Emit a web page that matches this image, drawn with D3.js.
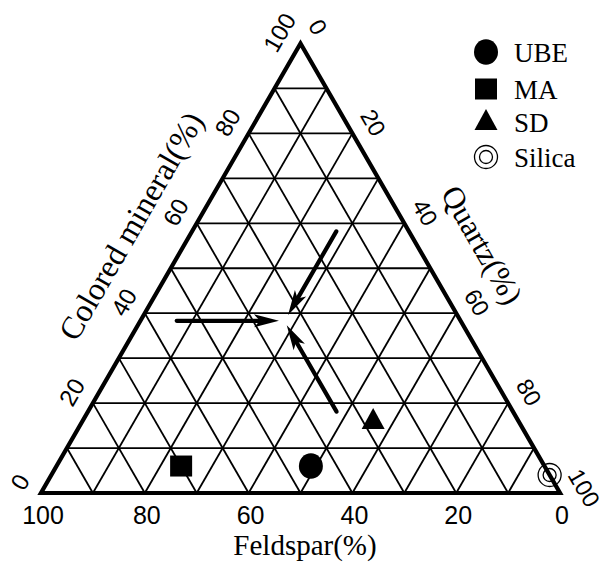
<!DOCTYPE html>
<html>
<head>
<meta charset="utf-8">
<script src="https://cdn.jsdelivr.net/npm/d3@7"></script>
<style>
  html, body { margin: 0; padding: 0; background: #fff; }
  svg { display: block; }
</style>
</head>
<body>
<div id="chart"></div>
<script>
// Sample compositions (%): feldspar, colored mineral, quartz
const samples  = ["UBE", "MA", "SD", "Silica"];
const feldspar = [45, 70, 28, 0];
const colored  = [6, 6, 16, 4];
const quartz   = [49, 24, 56, 96];
const symbols  = ["circle", "square", "triangle", "ring"];

// Trend arrows: start and end compositions [feldspar, colored, quartz]
const arrowFrom = [[54.7, 38.3, 7], [14, 58.2, 27.8], [34, 18.1, 47.9]];
const arrowTo   = [[35, 38.3, 26.7], [32.6, 39.6, 27.8], [34, 37.3, 28.7]];

// Axis tick labels and titles
const tickValues = [0, 20, 40, 60, 80, 100];
const gridValues = [10, 20, 30, 40, 50, 60, 70, 80, 90];
const titleBottom = "Feldspar(%)";
const titleLeft = "Colored mineral(%)";
const titleRight = "Quartz(%)";

const W = 605, H = 562;
const serif = "'Liberation Serif', 'Times New Roman', serif";
const sans = "'Liberation Sans', Arial, sans-serif";

// Triangle corners: bottom-left = feldspar 100, top = colored 100, bottom-right = quartz 100
const BL = [41, 493], BR = [560, 493], TOP = [300.5, 43.5];
const frac = d3.scaleLinear().domain([0, 100]).range([0, 1]);

function project(f, c, q) {
  const a = frac(f), b = frac(c), d = frac(q);
  const s = a + b + d;
  return [
    (BL[0] * a + TOP[0] * b + BR[0] * d) / s,
    (BL[1] * a + TOP[1] * b + BR[1] * d) / s
  ];
}

const svg = d3.select("#chart").append("svg")
  .attr("width", W).attr("height", H);

// Grid lines: constant colored, constant quartz, constant feldspar
const grid = svg.append("g").attr("stroke", "#000").attr("stroke-width", 1.8).attr("fill", "none");
const line = d3.line();
gridValues.forEach(v => {
  grid.append("path").attr("d", line([project(100 - v, v, 0), project(0, v, 100 - v)]));
  grid.append("path").attr("d", line([project(100 - v, 0, v), project(0, 100 - v, v)]));
  grid.append("path").attr("d", line([project(v, 100 - v, 0), project(v, 0, 100 - v)]));
});

// Sample markers
const marks = svg.append("g");
samples.forEach((name, i) => {
  const [x, y] = project(feldspar[i], colored[i], quartz[i]);
  drawSymbol(marks, symbols[i], x, y);
});

function drawSymbol(g, type, x, y) {
  if (type === "circle") {
    g.append("ellipse").attr("cx", x).attr("cy", y).attr("rx", 12).attr("ry", 12.8).attr("fill", "#000");
  } else if (type === "square") {
    g.append("rect").attr("x", x - 11).attr("y", y - 10.5).attr("width", 22).attr("height", 21).attr("fill", "#000");
  } else if (type === "triangle") {
    g.append("path").attr("d", `M${x},${y - 13}L${x + 11.5},${y + 8}L${x - 11.5},${y + 8}Z`).attr("fill", "#000");
  } else if (type === "ring") {
    g.append("circle").attr("cx", x).attr("cy", y).attr("r", 11.5).attr("fill", "#fff").attr("stroke", "#000").attr("stroke-width", 1.3);
    g.append("circle").attr("cx", x).attr("cy", y).attr("r", 6.5).attr("fill", "none").attr("stroke", "#000").attr("stroke-width", 1.3);
  }
}

// Outer triangle
svg.append("path")
  .attr("d", line([BL, BR, TOP]) + "Z")
  .attr("fill", "none").attr("stroke", "#000").attr("stroke-width", 4.2)
  .attr("stroke-linejoin", "miter");

// Arrows with barbed heads
const arrows = svg.append("g");
arrowFrom.forEach((s, i) => {
  const p0 = project(...s), p1 = project(...arrowTo[i]);
  const ang = Math.atan2(p1[1] - p0[1], p1[0] - p0[0]);
  const len = Math.hypot(p1[0] - p0[0], p1[1] - p0[1]);
  const g = arrows.append("g")
    .attr("transform", `translate(${p0[0]},${p0[1]}) rotate(${ang * 180 / Math.PI})`);
  g.append("line").attr("x1", 0).attr("y1", 0).attr("x2", len - 14).attr("y2", 0)
    .attr("stroke", "#000").attr("stroke-width", 4.2).attr("stroke-linecap", "round");
  g.append("path")
    .attr("d", `M${len},0L${len - 25},-6.5L${len - 19},0L${len - 25},6.5Z`)
    .attr("fill", "#000");
});

// Bottom tick labels (feldspar)
const labels = svg.append("g").attr("fill", "#000");
tickValues.forEach(v => {
  const [x, y] = project(v, 0, 100 - v);
  labels.append("text").attr("x", x + 2).attr("y", y + 31)
    .attr("text-anchor", "middle").attr("font-family", sans).attr("font-size", 25)
    .text(v);
});

// Left tick labels (colored mineral)
tickValues.forEach(v => {
  const [x, y] = project(100 - v, v, 0);
  const lx = x - 21, ly = y - 11;
  labels.append("text")
    .attr("transform", `translate(${lx},${ly}) rotate(-60)`)
    .attr("text-anchor", "middle").attr("dominant-baseline", "central")
    .attr("font-family", sans).attr("font-size", 24)
    .text(v);
});

// Right tick labels (quartz), anchored at their first digit
tickValues.forEach(v => {
  const [x, y] = project(0, 100 - v, v);
  const lx = x + 14, ly = y - 22;
  labels.append("text")
    .attr("transform", `translate(${lx},${ly}) rotate(60)`)
    .attr("text-anchor", "start").attr("dominant-baseline", "central")
    .attr("font-family", sans).attr("font-size", 23.5)
    .text(v);
});

// Axis titles
labels.append("text").attr("x", 305).attr("y", 555)
  .attr("text-anchor", "middle").attr("font-family", serif).attr("font-size", 29)
  .text(titleBottom);
labels.append("text")
  .attr("transform", "translate(131,226) rotate(-60)")
  .attr("text-anchor", "middle").attr("dominant-baseline", "central")
  .attr("font-family", serif).attr("font-size", 32)
  .text(titleLeft);
labels.append("text")
  .attr("transform", "translate(482,245) rotate(60)")
  .attr("text-anchor", "middle").attr("dominant-baseline", "central")
  .attr("font-family", serif).attr("font-size", 31)
  .text(titleRight);

// Legend
const legend = svg.append("g");
const legendY = [52, 89, 122, 157];
samples.forEach((name, i) => {
  drawSymbol(legend, symbols[i], 486, legendY[i]);
  legend.append("text").attr("x", 514).attr("y", legendY[i] + 9.5)
    .attr("font-family", serif).attr("font-size", 27).attr("fill", "#000")
    .text(name);
});
</script>
</body>
</html>
